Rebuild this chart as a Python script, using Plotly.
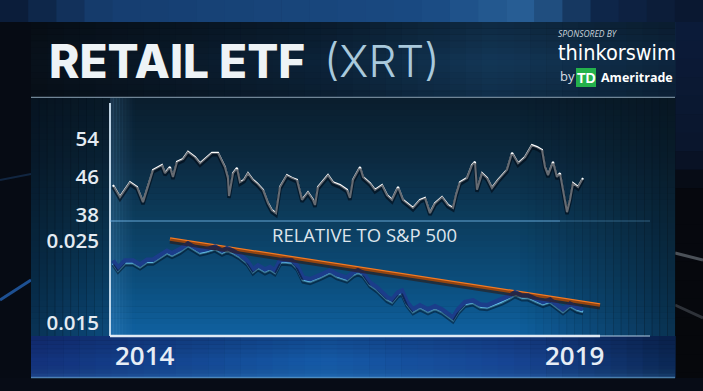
import plotly.graph_objects as go

# ---------------- data ----------------
price_t = [2014.000, 2014.074, 2014.181, 2014.255, 2014.319, 2014.362, 2014.426, 2014.521, 2014.553, 2014.606,
           2014.638, 2014.681, 2014.745, 2014.798, 2014.872, 2014.926, 2015.053, 2015.117, 2015.191, 2015.223,
           2015.234, 2015.277, 2015.319, 2015.351, 2015.394, 2015.436, 2015.489, 2015.532, 2015.596, 2015.649,
           2015.691, 2015.734, 2015.777, 2015.851, 2015.904, 2015.957, 2016.011, 2016.074, 2016.128, 2016.149,
           2016.181, 2016.287, 2016.340, 2016.415, 2016.489, 2016.521, 2016.553, 2016.628, 2016.660, 2016.734,
           2016.787, 2016.862, 2016.915, 2016.968, 2017.032, 2017.085, 2017.191, 2017.266, 2017.319, 2017.372,
           2017.426, 2017.500, 2017.564, 2017.617, 2017.649, 2017.691, 2017.766, 2017.819, 2017.851, 2017.872,
           2017.926, 2017.979, 2018.032, 2018.096, 2018.191, 2018.245, 2018.309, 2018.383, 2018.457, 2018.511,
           2018.564, 2018.596, 2018.628, 2018.681, 2018.723, 2018.755, 2018.787, 2018.830, 2018.862, 2018.894,
           2018.947, 2019.000]
price_v = [44.2, 41.7, 44.8, 43.8, 40.6, 43.2, 47.4, 48.4, 46.7, 48.0,
           45.9, 49.1, 49.7, 51.2, 50.1, 48.8, 51.0, 51.0, 48.0, 45.7,
           41.9, 46.7, 47.8, 44.8, 45.3, 46.7, 45.3, 44.6, 43.2, 40.4,
           38.9, 38.3, 43.8, 46.3, 45.7, 45.3, 41.1, 42.7, 41.1, 40.0,
           43.8, 46.3, 44.8, 44.2, 43.2, 41.5, 45.3, 48.0, 45.9, 44.6,
           43.2, 44.2, 42.1, 41.1, 43.8, 41.1, 39.4, 41.1, 41.5, 38.3,
           40.4, 41.7, 40.0, 39.4, 42.1, 44.8, 45.7, 48.4, 49.1, 43.2,
           46.7, 45.7, 43.6, 45.3, 47.4, 51.0, 48.8, 50.1, 52.6, 52.2,
           51.6, 48.0, 46.3, 49.1, 45.9, 46.7, 43.2, 38.5, 41.1, 44.6,
           43.8, 45.7]

rel_t = [2014.000, 2014.053, 2014.128, 2014.213, 2014.287, 2014.362, 2014.426, 2014.500, 2014.574, 2014.628,
         2014.713, 2014.798, 2014.851, 2014.926, 2015.000, 2015.085, 2015.160, 2015.213, 2015.277, 2015.351,
         2015.426, 2015.489, 2015.543, 2015.617, 2015.670, 2015.723, 2015.777, 2015.809, 2015.904, 2015.957,
         2016.021, 2016.096, 2016.202, 2016.309, 2016.383, 2016.489, 2016.553, 2016.606, 2016.660, 2016.734,
         2016.809, 2016.915, 2016.968, 2017.032, 2017.074, 2017.128, 2017.191, 2017.266, 2017.351, 2017.426,
         2017.500, 2017.564, 2017.617, 2017.670, 2017.745, 2017.830, 2017.904, 2017.979, 2018.064, 2018.138,
         2018.223, 2018.277, 2018.351, 2018.415, 2018.511, 2018.574, 2018.649, 2018.723, 2018.787, 2018.862,
         2018.936, 2019.000]
rel_v = [0.0223, 0.0214, 0.0223, 0.0223, 0.0218, 0.0224, 0.0224, 0.0230, 0.0235, 0.0232,
         0.0237, 0.0244, 0.0240, 0.0235, 0.0237, 0.0240, 0.0235, 0.0238, 0.0235, 0.0230,
         0.0223, 0.0212, 0.0217, 0.0212, 0.0215, 0.0211, 0.0223, 0.0224, 0.0223, 0.0217,
         0.0202, 0.0200, 0.0205, 0.0211, 0.0206, 0.0202, 0.0208, 0.0211, 0.0208, 0.0196,
         0.0190, 0.0178, 0.0175, 0.0184, 0.0186, 0.0172, 0.0163, 0.0168, 0.0163, 0.0167,
         0.0163, 0.0157, 0.0153, 0.0163, 0.0172, 0.0174, 0.0169, 0.0168, 0.0172, 0.0175,
         0.0180, 0.0184, 0.0180, 0.0180, 0.0175, 0.0172, 0.0175, 0.0169, 0.0163, 0.0170,
         0.0165, 0.0163]

trend_t = [2014.606, 2019.181]
trend_v = [0.02525, 0.01715]

price_ticks = [38, 46, 54]
price_tick_text = ["38", "46", "54"]
rel_ticks = [0.015, 0.025]
rel_tick_text = ["0.015", "0.025"]
year_labels = ["2014", "2019"]
year_pos = [2014, 2019]

# ---------------- layout helpers (pixel -> paper) ----------------
W, H = 703, 391
def px(x): return x / W
def py(y): return 1 - y / H

shapes = []

def mix(c0, c1, f):
    return tuple(c0[i] + (c1[i] - c0[i]) * f for i in range(4))

def col(c):
    return "rgba(%d,%d,%d,%.3f)" % (c[0], c[1], c[2], c[3])

def color_at(stops, f):
    for i in range(len(stops) - 1):
        f0, c0 = stops[i]
        f1, c1 = stops[i + 1]
        if f <= f1:
            return mix(c0, c1, (f - f0) / (f1 - f0) if f1 > f0 else 0)
    return stops[-1][1]

def rect(x0, y0, x1, y1, c, layer="below"):
    shapes.append(dict(type="rect", xref="paper", yref="paper",
                       x0=px(x0), x1=px(x1), y0=py(y1), y1=py(y0),
                       fillcolor=c, line=dict(width=0), layer=layer))

def vgrad(x0, y0, x1, y1, stops, n=30):
    for i in range(n):
        a = y0 + (y1 - y0) * i / n
        b = y0 + (y1 - y0) * (i + 1) / n + 0.6
        rect(x0, a, x1, b, col(color_at(stops, (i + 0.5) / n)))

def hgrad(x0, y0, x1, y1, stops, n=30):
    for i in range(n):
        a = x0 + (x1 - x0) * i / n
        b = x0 + (x1 - x0) * (i + 1) / n + 0.6
        rect(a, y0, b, y1, col(color_at(stops, (i + 0.5) / n)))

def line(x0, y0, x1, y1, c, w, layer="below"):
    shapes.append(dict(type="line", xref="paper", yref="paper",
                       x0=px(x0), x1=px(x1), y0=py(y0), y1=py(y1),
                       line=dict(color=c, width=w), layer=layer))

# outer background
hgrad(0, 0, 703, 22, [(0, (10, 25, 50, 1)), (0.15, (22, 62, 112, 1)), (0.6, (26, 74, 130, 1)),
                      (0.75, (40, 95, 150, 1)), (0.85, (15, 40, 75, 1)), (1, (10, 22, 45, 1))], 25)
rect(0, 22, 31, 391, "#060b14")
rect(675, 22, 703, 391, "#05080e")
vgrad(675, 22, 703, 391, [(0, (12, 28, 58, 1)), (0.35, (10, 22, 45, 1)), (0.45, (6, 9, 15, 1)), (1, (6, 8, 12, 1))], 20)
rect(0, 378, 703, 391, "#070c16")
line(0, 300, 31, 280, "rgba(40,110,200,0.7)", 3)
line(0, 180, 31, 174, "rgba(40,90,150,0.35)", 2)
line(675, 253, 703, 260, "rgba(160,170,180,0.45)", 3)
line(675, 305, 703, 318, "rgba(140,150,160,0.3)", 3)

# title band
hgrad(31, 22, 675, 97, [(0, (9, 18, 28, 1)), (0.45, (13, 36, 58, 1)), (0.72, (20, 56, 88, 1)), (1, (14, 38, 62, 1))], 40)
vgrad(31, 22, 675, 97, [(0, (0, 0, 0, 0.25)), (0.5, (0, 0, 0, 0.0)), (1, (0, 0, 0, 0.15))], 12)
line(31, 97.5, 675, 97.5, "rgba(140,165,185,0.8)", 1.5)

# chart panel
vgrad(31, 98, 675, 336, [(0, (10, 30, 46, 1)), (0.25, (12, 42, 64, 1)), (0.5, (12, 60, 92, 1)),
                          (0.8, (12, 80, 128, 1)), (1, (16, 98, 162, 1))], 40)
hgrad(31, 98, 110, 336, [(0, (4, 12, 22, 0.55)), (1, (4, 12, 22, 0.25))], 10)
hgrad(110, 98, 135, 336, [(0, (110, 180, 235, 0.18)), (1, (110, 180, 235, 0.0))], 8)
hgrad(520, 98, 675, 336, [(0, (6, 18, 28, 0.0)), (0.6, (6, 18, 28, 0.35)), (1, (6, 18, 28, 0.6))], 20)

# bottom label strip
hgrad(31, 336, 675, 378, [(0, (20, 50, 125, 1)), (0.45, (22, 92, 170, 1)), (0.75, (24, 70, 150, 1)),
                          (1, (12, 40, 85, 1))], 40)
vgrad(31, 336, 675, 378, [(0, (0, 0, 30, 0.2)), (0.6, (0, 0, 0, 0.0)), (1, (80, 180, 230, 0.15))], 10)
line(31, 377.5, 675, 377.5, "rgba(110,170,210,0.6)", 1.5)

# axis lines
line(110, 103, 110, 336, "rgba(210,230,245,0.9)", 2)
line(110, 336, 600, 336, "rgba(235,242,250,0.95)", 2.5)
line(600, 336, 650, 336, "rgba(200,225,245,0.45)", 2)
line(110, 221, 560, 221, "rgba(120,190,240,0.55)", 1.5)
line(560, 221, 650, 221, "rgba(120,190,240,0.25)", 1.5)

# TD logo box
shapes.append(dict(type="rect", xref="paper", yref="paper", x0=px(576), x1=px(596), y0=py(87), y1=py(68),
                   fillcolor="#24b14c", line=dict(width=0), layer="above"))

# ---------------- axes ----------------
XR = [2014 - 3 / 94, 2014 + 497 / 94]
P_RANGE = [54 - (221 - 138.5) / 4.75, 54 + (138.5 - 98) / 4.75]
R_RANGE = [0.025 - (336 - 241) / 8150, 0.025 + (241 - 221) / 8150]
p_shift = 2 / 4.75
r_up = 2.5 / 8150
r_down = 2 / 8150

fig = go.Figure()
fig.add_trace(go.Scatter(x=price_t, y=price_v, yaxis="y4", mode="lines",
                         line=dict(color="rgba(0,8,20,0.6)", width=3.5), hoverinfo="skip"))
fig.add_trace(go.Scatter(x=price_t, y=price_v, yaxis="y", mode="lines",
                         line=dict(color="#ffffff", width=2.1), hoverinfo="skip"))
fig.add_trace(go.Scatter(x=rel_t, y=rel_v, yaxis="y3", mode="lines",
                         line=dict(color="#1b3d8a", width=4.5), hoverinfo="skip"))
fig.add_trace(go.Scatter(x=rel_t, y=rel_v, yaxis="y5", mode="lines",
                         line=dict(color="rgba(0,10,25,0.45)", width=3), hoverinfo="skip"))
fig.add_trace(go.Scatter(x=rel_t, y=rel_v, yaxis="y2", mode="lines",
                         line=dict(color="#66cbf5", width=2.8), hoverinfo="skip"))
fig.add_trace(go.Scatter(x=trend_t, y=trend_v, yaxis="y5", mode="lines",
                         line=dict(color="rgba(50,15,0,0.5)", width=5), hoverinfo="skip"))
fig.add_trace(go.Scatter(x=trend_t, y=trend_v, yaxis="y2", mode="lines",
                         line=dict(color="#f47a22", width=3.5), hoverinfo="skip"))

tickfont = dict(family="Open Sans, sans-serif", size=20.5, color="#e4ebf2", weight=600)
hidden = dict(showgrid=False, zeroline=False, showticklabels=False, showline=False, fixedrange=True)

annotations = [
    dict(text="RETAIL ETF", x=px(47), y=py(61), xanchor="left", yanchor="middle",
         font=dict(family="Inter, sans-serif", size=46, color="#eef3f6", weight=800)),
    dict(text="(XRT)", x=px(322), y=py(61), xanchor="left", yanchor="middle",
         font=dict(family="Inter, sans-serif", size=44, color="#a9c9dc", weight=300)),
    dict(text="SPONSORED BY", x=px(556), y=py(33.5), xanchor="left", yanchor="middle",
         font=dict(family="Open Sans, sans-serif", size=8.5, color="#c8d2da", style="italic")),
    dict(text="thinkorswim", x=px(556), y=py(52), xanchor="left", yanchor="middle",
         font=dict(family="Liberation Sans Narrow, DejaVu Sans Condensed, sans-serif", size=21.5, color="#ffffff")),
    dict(text="by", x=px(558), y=py(76), xanchor="left", yanchor="middle",
         font=dict(family="Open Sans, sans-serif", size=13, color="#d8dde2")),
    dict(text="<b>TD</b>", x=px(586), y=py(78), xanchor="center", yanchor="middle",
         font=dict(family="Liberation Sans Narrow, sans-serif", size=14, color="#ffffff")),
    dict(text="<b>Ameritrade</b>", x=px(599), y=py(77.5), xanchor="left", yanchor="middle",
         font=dict(family="Open Sans, sans-serif", size=12.5, color="#ffffff")),
    dict(text="RELATIVE TO S&P 500", x=px(364), y=py(234), xanchor="center", yanchor="middle",
         font=dict(family="Open Sans, sans-serif", size=18.5, color="#dde5ec", weight=500)),
    dict(text=year_labels[0], x=year_pos[0], xref="x", y=py(355), yref="paper", xanchor="left", yanchor="middle",
         font=dict(family="Open Sans, sans-serif", size=26, color="#e6edf5", weight=600)),
    dict(text=year_labels[1], x=year_pos[1], xref="x", y=py(355), yref="paper", xanchor="center", yanchor="middle",
         xshift=-9, font=dict(family="Open Sans, sans-serif", size=26, color="#e6edf5", weight=600)),
]
for a in annotations:
    a.setdefault("xref", "paper")
    a.setdefault("yref", "paper")
    a["showarrow"] = False

fig.update_layout(
    width=W, height=H, margin=dict(l=0, r=0, t=0, b=0, pad=0, autoexpand=False),
    paper_bgcolor="#05080f", plot_bgcolor="rgba(0,0,0,0)",
    showlegend=False, hovermode=False,
    shapes=shapes, annotations=annotations,
    xaxis=dict(domain=[px(110), px(610)], range=XR, automargin=False, **hidden),
    yaxis=dict(domain=[py(221), py(98)], range=P_RANGE, tickvals=price_ticks, ticktext=price_tick_text,
               showticklabels=True, tickfont=tickfont, ticks="", ticklabelstandoff=10, automargin=False,
               showgrid=False, zeroline=False, showline=False, fixedrange=True),
    yaxis2=dict(domain=[py(336), py(221)], range=R_RANGE, tickvals=rel_ticks, ticktext=rel_tick_text,
                showticklabels=True, tickfont=tickfont, ticks="", ticklabelstandoff=10, automargin=False,
                showgrid=False, zeroline=False, showline=False, fixedrange=True),
    yaxis3=dict(overlaying="y2", range=[R_RANGE[0] - r_up, R_RANGE[1] - r_up], **hidden),
    yaxis4=dict(overlaying="y", range=[P_RANGE[0] + p_shift, P_RANGE[1] + p_shift], **hidden),
    yaxis5=dict(overlaying="y2", range=[R_RANGE[0] + r_down, R_RANGE[1] + r_down], **hidden),
)

post = ("document.documentElement.style.margin='0';document.body.style.margin='0';"
        "document.body.style.overflow='hidden';"
        "var g=document.getElementById('{plot_id}');g.style.position='fixed';g.style.left='0px';g.style.top='0px';"
        "window.scrollTo(0,0);")
fig.write_html("out.html", config={"displayModeBar": False}, post_script=post)
